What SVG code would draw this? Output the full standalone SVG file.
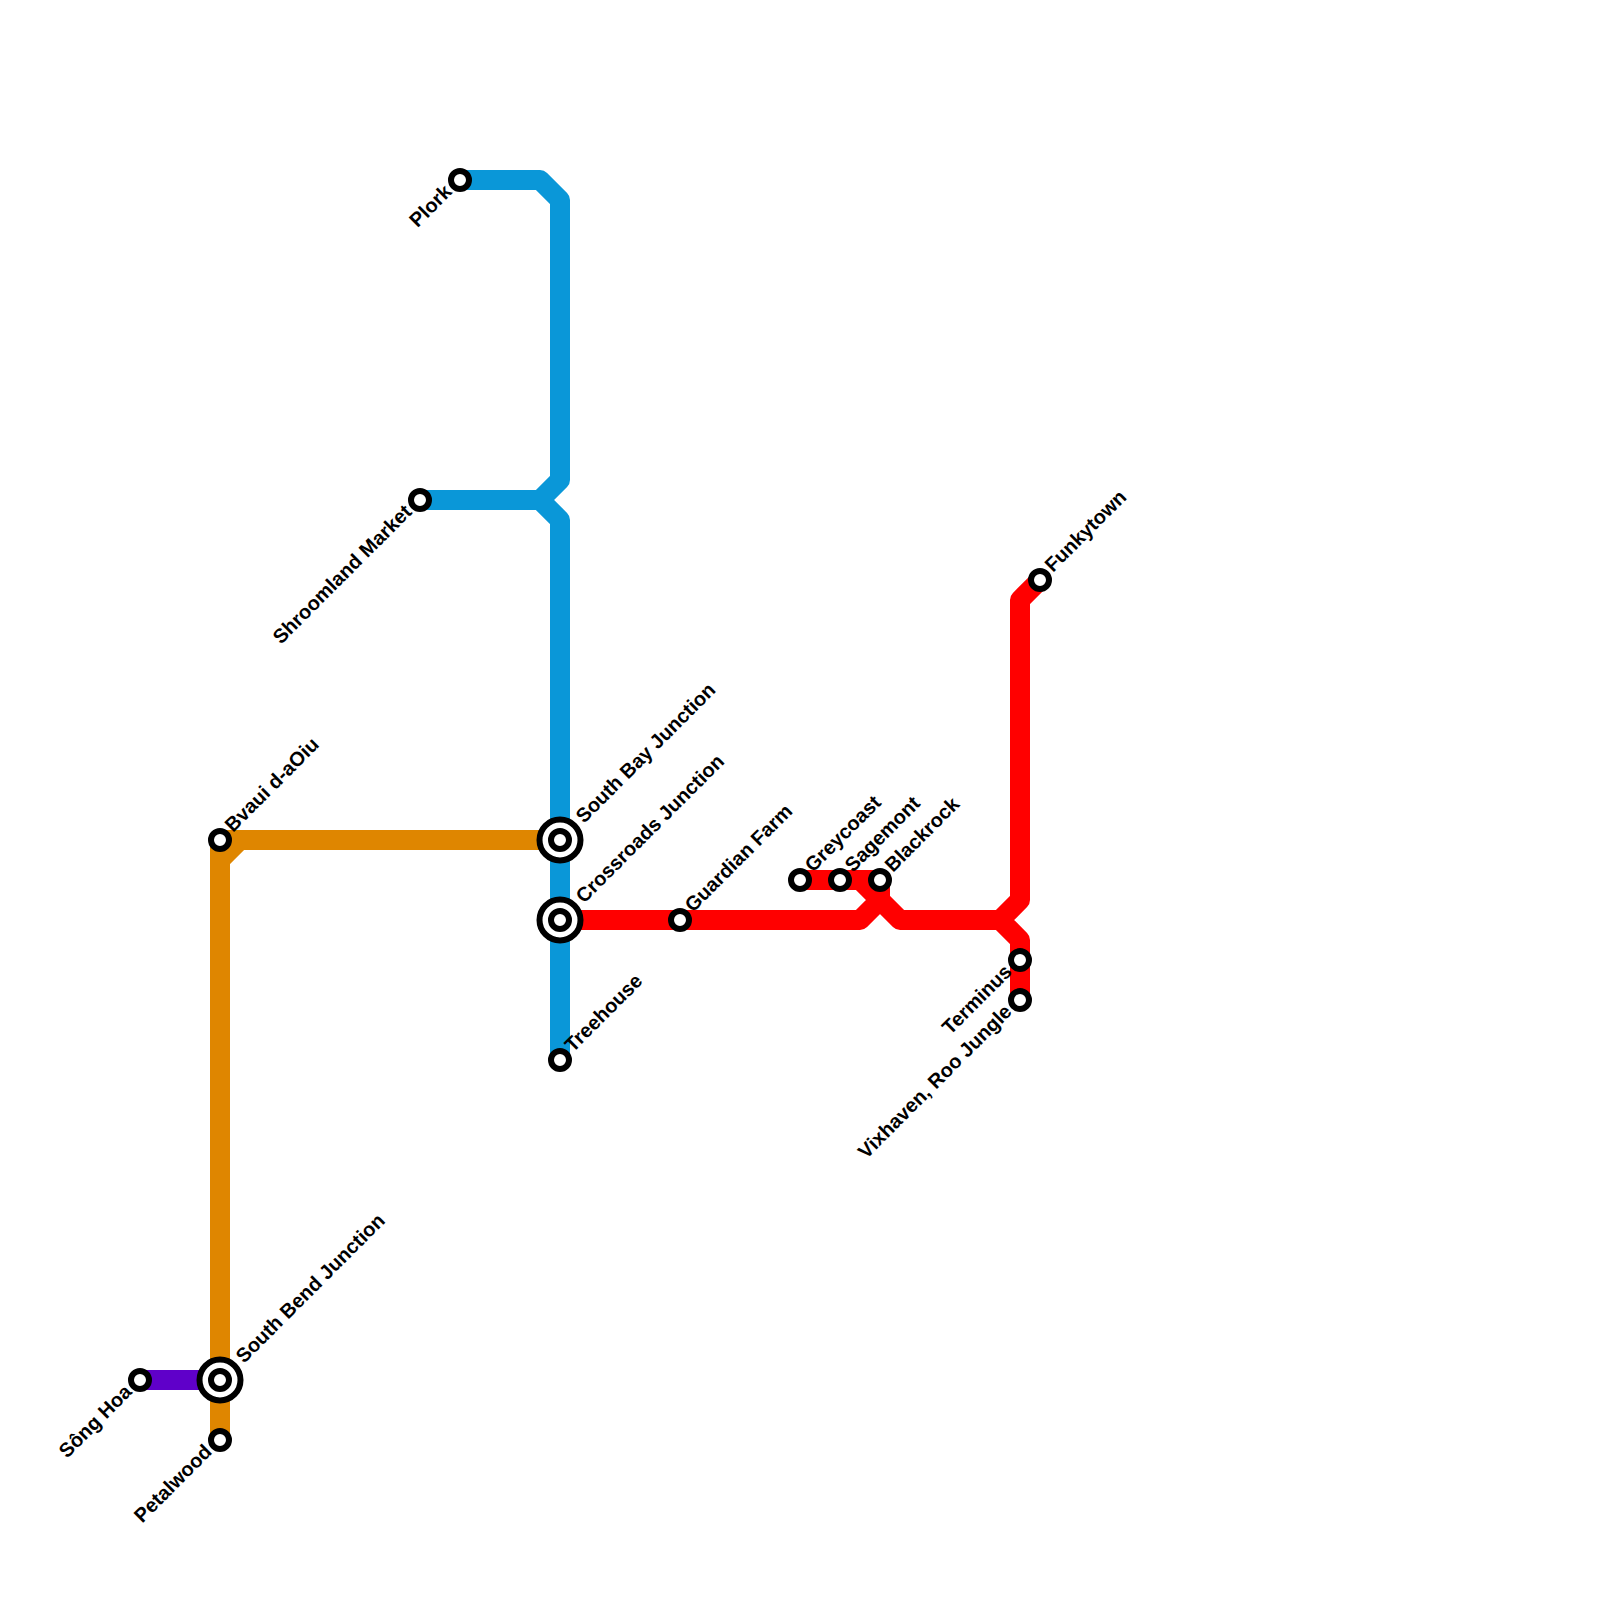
<svg xmlns="http://www.w3.org/2000/svg" width="1600" height="1600" viewBox="0 0 1600 1600">
<style>
.l{fill:none;stroke-width:20;stroke-linejoin:round;stroke-linecap:butt}
.s{fill:#fff;stroke:#000;stroke-width:6}
text{font-family:"Liberation Sans",Arial,sans-serif;font-size:20px;font-weight:700;fill:#000;text-rendering:geometricPrecision}
.e{text-anchor:end}
</style>
<rect width="1600" height="1600" fill="#fff"/>
<g id="connectors">
<path class="l" stroke="#0a97d8" d="M460 180H540L560 200V480L540 500H420M540 500L560 520V1060"/>
<path class="l" stroke="#df8600" d="M220 840H560M240 840L220 860V1440M220 840V860"/>
<path class="l" stroke="#5f00c9" d="M140 1380H220"/>
<path class="l" stroke="#ff0000" d="M560 920H860L880 900V880H800M860 880L900 920H1000L1020 900V600L1040 580M1000 920L1020 940V1000"/>
</g>
<g id="plork"><circle class="s" cx="460" cy="180" r="9"/><text class="e" transform="translate(448 188) rotate(-45)" y="7">Plork</text></g>
<g id="shroomland-market"><circle class="s" cx="420" cy="500" r="9"/><text class="e" transform="translate(408 508) rotate(-45)" y="7">Shroomland Market</text></g>
<g id="south-bay-junction"><circle class="s" cx="560" cy="840" r="20.5"/><circle class="s" cx="560" cy="840" r="9"/><text transform="translate(579 819) rotate(-45)" y="7">South Bay Junction</text></g>
<g id="crossroads-junction"><circle class="s" cx="560" cy="920" r="20.5"/><circle class="s" cx="560" cy="920" r="9"/><text transform="translate(579 899) rotate(-45)" y="7">Crossroads Junction</text></g>
<g id="treehouse"><circle class="s" cx="560" cy="1060" r="9"/><text transform="translate(568 1048) rotate(-45)" y="7">Treehouse</text></g>
<g id="guardian-farm"><circle class="s" cx="680" cy="920" r="9"/><text transform="translate(688 908) rotate(-45)" y="7">Guardian Farm</text></g>
<g id="greycoast"><circle class="s" cx="800" cy="880" r="9"/><text transform="translate(808 868) rotate(-45)" y="7">Greycoast</text></g>
<g id="sagemont"><circle class="s" cx="840" cy="880" r="9"/><text transform="translate(848 868) rotate(-45)" y="7">Sagemont</text></g>
<g id="blackrock"><circle class="s" cx="880" cy="880" r="9"/><text transform="translate(888 868) rotate(-45)" y="7">Blackrock</text></g>
<g id="funkytown"><circle class="s" cx="1040" cy="580" r="9"/><text transform="translate(1048 568) rotate(-45)" y="7">Funkytown</text></g>
<g id="terminus"><circle class="s" cx="1020" cy="960" r="9"/><text class="e" transform="translate(1008 968) rotate(-45)" y="7">Terminus</text></g>
<g id="vixhaven"><circle class="s" cx="1020" cy="1000" r="9"/><text class="e" transform="translate(1008 1008) rotate(-45)" y="7">Vixhaven, Roo Jungle</text></g>
<g id="bvaui"><circle class="s" cx="220" cy="840" r="9"/><text transform="translate(228 828) rotate(-45)" y="7">Bvaui d-aOiu</text></g>
<g id="south-bend-junction"><circle class="s" cx="220" cy="1380" r="20.5"/><circle class="s" cx="220" cy="1380" r="9"/><text transform="translate(239 1359) rotate(-45)" y="7">South Bend Junction</text></g>
<g id="song-hoa"><circle class="s" cx="140" cy="1380" r="9"/><text class="e" transform="translate(128 1388) rotate(-45)" y="7">Sông Hoa</text></g>
<g id="petalwood"><circle class="s" cx="220" cy="1440" r="9"/><text class="e" transform="translate(208 1448) rotate(-45)" y="7">Petalwood</text></g>
</svg>
